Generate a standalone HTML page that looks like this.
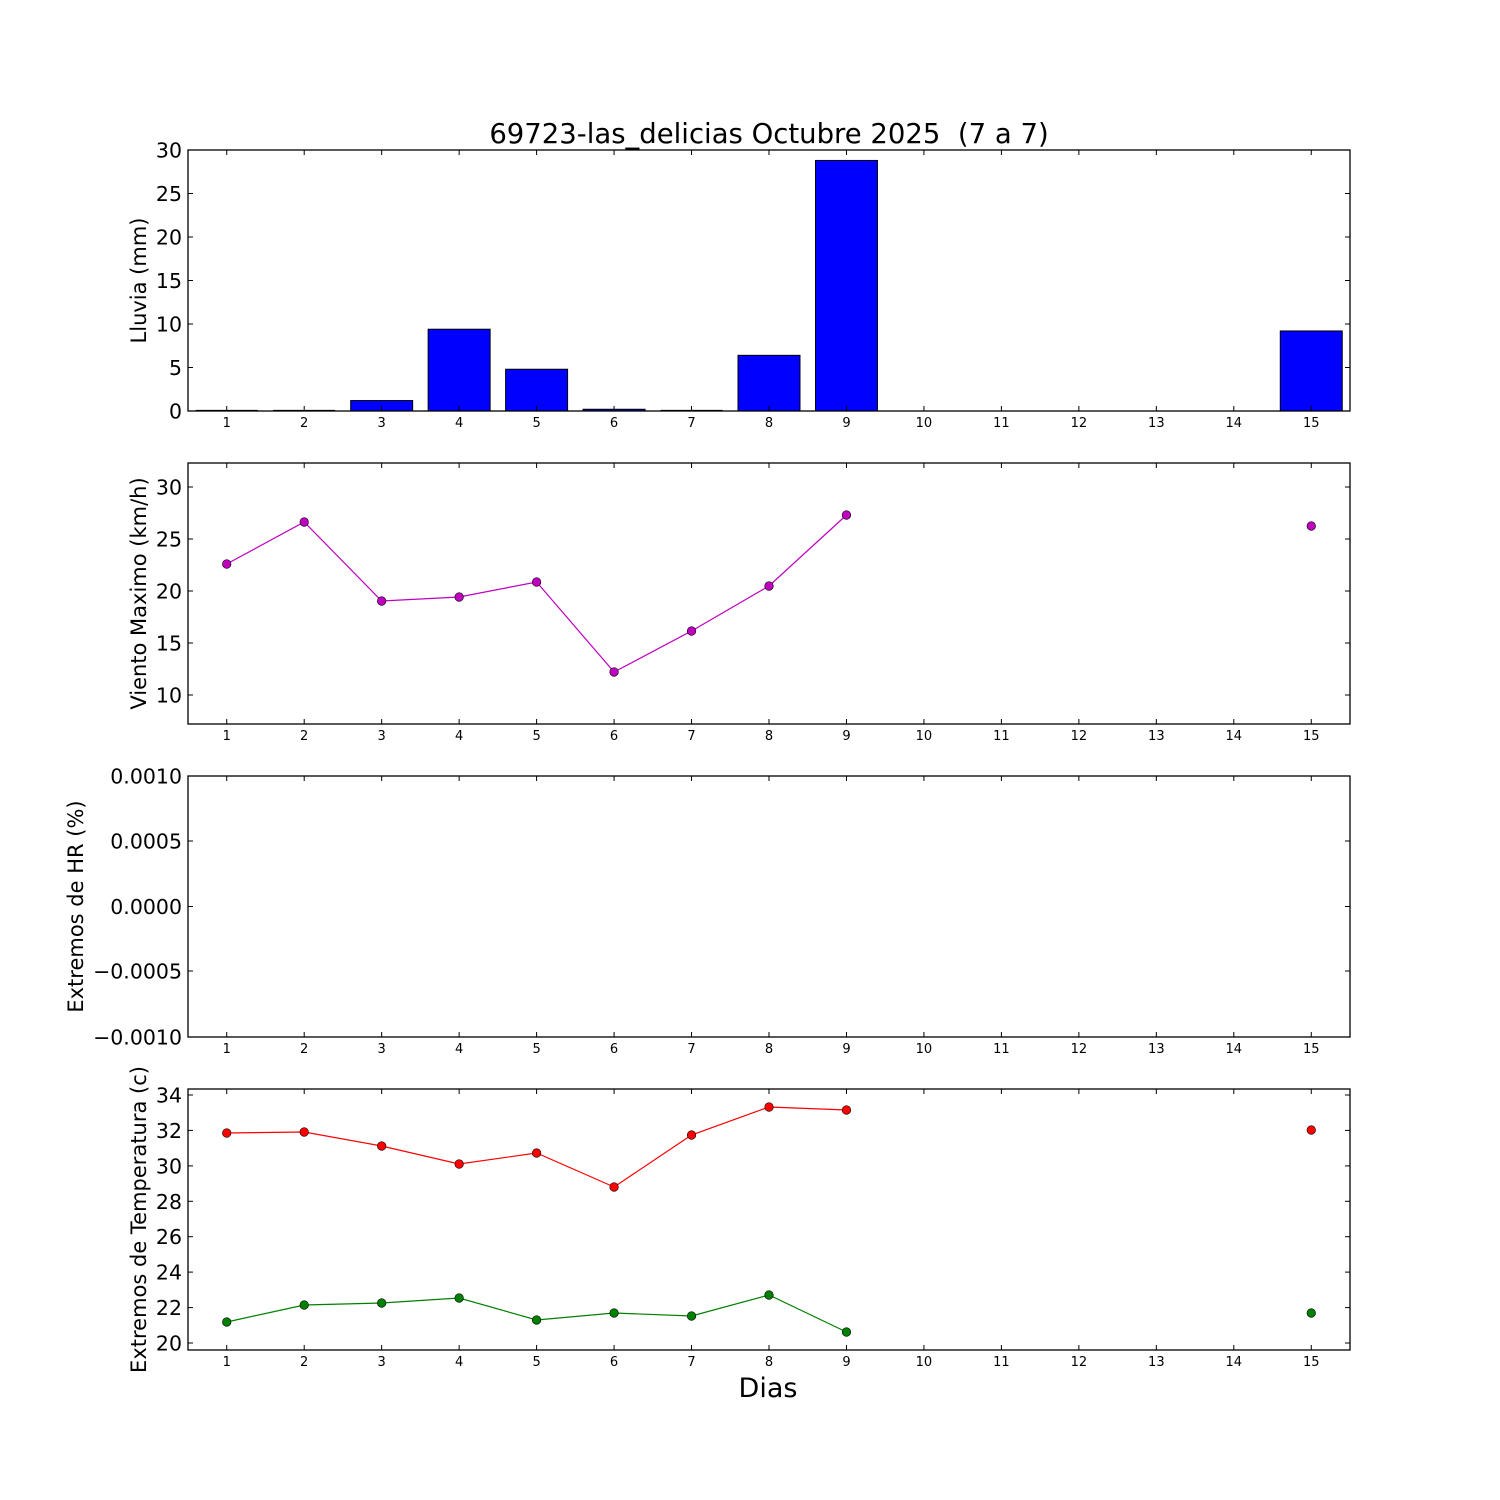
<!DOCTYPE html>
<html><head><meta charset="utf-8"><style>body{margin:0;background:#fff}svg{display:block}text{font-family:"DejaVu Sans","Liberation Sans",sans-serif}</style></head>
<body><svg id="s" width="1500" height="1500" xmlns="http://www.w3.org/2000/svg"></svg>
<script>
const s=document.getElementById('s');let h='';
const L=188,R=1350,dx=(R-L)/15;const X=d=>L+(d-0.5)*dx;
const panels=[[150,411],[463,724],[776,1037],[1089,1350]];
h+='<rect width="1500" height="1500" fill="#fff"/>';
const bars={1:0,2:0,3:1.2,4:9.4,5:4.8,6:0.2,7:0,8:6.4,9:28.8,15:9.2};
const yb=v=>411-v*(261/30);
for(const d in bars){const x=X(+d)-0.4*dx,w=0.8*dx,y=yb(bars[d]);
 if(bars[d]==0){h+=`<line x1="${x}" y1="410.5" x2="${x+w}" y2="410.5" stroke="#000" stroke-width="1.2"/>`;}
 else h+=`<rect x="${x}" y="${y}" width="${w}" height="${411-y}" fill="#0000ff" stroke="#000" stroke-width="1"/>`;}
function line(pts,col){h+=`<polyline points="${pts.map(p=>X(p[0])+','+p[1]).join(' ')}" fill="none" stroke="${col}" stroke-width="1.2"/>`;}
function dots(pts,col){pts.forEach(p=>h+=`<circle cx="${X(p[0])}" cy="${p[1]}" r="4.3" fill="${col}" stroke="#000" stroke-width="0.6"/>`);}
const w=[[1,564],[2,522],[3,601],[4,597],[5,582],[6,672],[7,631],[8,586],[9,515]];
line(w,'#bf00bf');dots(w.concat([[15,526]]),'#bf00bf');
const r=[[1,1133],[2,1132],[3,1146],[4,1164],[5,1153],[6,1187],[7,1135],[8,1107],[9,1110]];
const g=[[1,1322],[2,1305],[3,1303],[4,1298],[5,1320],[6,1313],[7,1316],[8,1295],[9,1332]];
line(r,'#ff0000');dots(r.concat([[15,1130]]),'#ff0000');
line(g,'#008000');dots(g.concat([[15,1313]]),'#008000');
const yt=[
 [[411,'0'],[367.5,'5'],[324,'10'],[280.5,'15'],[237,'20'],[193.5,'25'],[150,'30']],
 [[695,'10'],[643,'15'],[591,'20'],[539,'25'],[487,'30']],
 [[776,'0.0010'],[841,'0.0005'],[906.5,'0.0000'],[971,'\u22120.0005'],[1037,'\u22120.0010']],
 [[1343,'20'],[1307.6,'22'],[1272.1,'24'],[1236.7,'26'],[1201.3,'28'],[1165.9,'30'],[1130.4,'32'],[1095,'34']]];
const lab=['Lluvia (mm)','Viento Maximo (km/h)','Extremos de HR (%)','Extremos de Temperatura (c)'];
const lx=[146,146,83,146];
panels.forEach(([t,b],i)=>{
 h+=`<rect x="${L}" y="${t}" width="${R-L}" height="${b-t}" fill="none" stroke="#000" stroke-width="1.3"/>`;
 for(let d=1;d<=15;d++){const x=X(d);h+=`<line x1="${x}" y1="${b}" x2="${x}" y2="${b-5}" stroke="#000"/><line x1="${x}" y1="${t}" x2="${x}" y2="${t+5}" stroke="#000"/><text x="${x}" y="${b+16}" font-size="13" text-anchor="middle">${d}</text>`;}
 yt[i].forEach(([y,l])=>{h+=`<line x1="${L}" y1="${y}" x2="${L+5}" y2="${y}" stroke="#000"/><line x1="${R}" y1="${y}" x2="${R-5}" y2="${y}" stroke="#000"/><text x="${L-6}" y="${y+7.5}" font-size="20.5" text-anchor="end">${l}</text>`;});
 const c=(t+b)/2;h+=`<text transform="translate(${lx[i]},${c}) rotate(-90)" font-size="21" text-anchor="middle">${lab[i]}</text>`;
});
h+=`<text x="769" y="143" font-size="27.5" text-anchor="middle" xml:space="preserve" style="white-space:pre">69723-las_delicias Octubre 2025  (7 a 7)</text>`;
h+=`<text x="768" y="1397" font-size="27" text-anchor="middle">Dias</text>`;
s.innerHTML=h;
</script></body></html>
